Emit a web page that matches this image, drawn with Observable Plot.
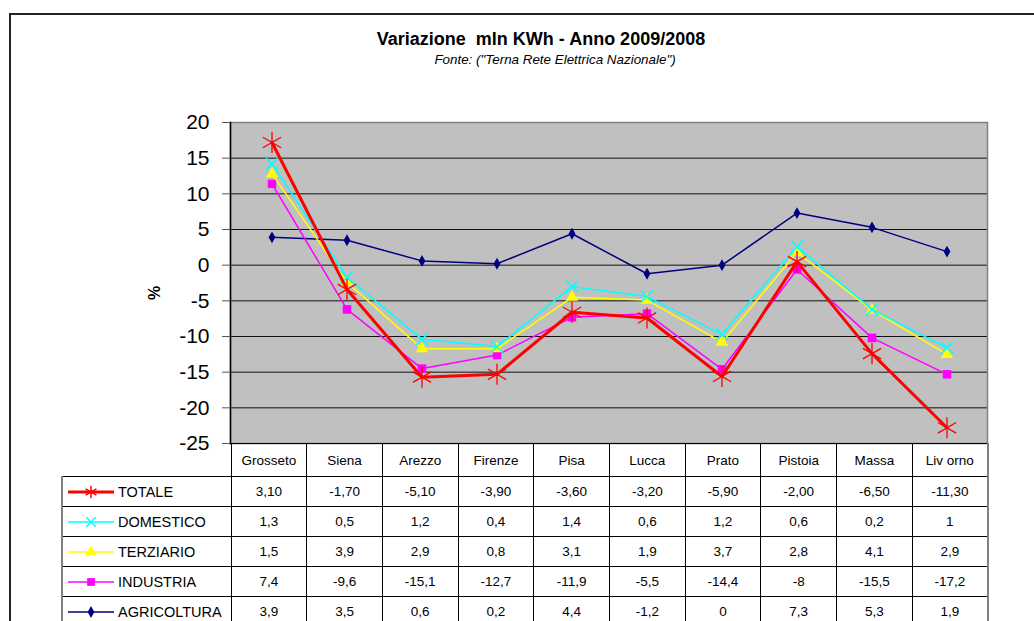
<!DOCTYPE html>
<html>
<head>
<meta charset="utf-8">
<script src="https://cdn.jsdelivr.net/npm/d3@7"></script>
<script src="https://cdn.jsdelivr.net/npm/@observablehq/plot@0.6"></script>
<style>
  body { margin: 0; background: #fff; font-family: "Liberation Sans", Arial, sans-serif; }
  #root { position: relative; width: 1034px; height: 621px; overflow: hidden; background: #fff; }
  #frame { position: absolute; left: 9px; top: 13px; width: 1100px; height: 700px; border: 2px solid #222; box-sizing: border-box; }
  #title { position: absolute; left: 0; width: 1082px; top: 29px; text-align: center; font-weight: bold; font-size: 18px; color: #000; }
  #subtitle { position: absolute; left: 0; width: 1110px; top: 52px; text-align: center; font-style: italic; font-size: 13.4px; color: #000; }
  #ylabel { position: absolute; left: 148px; top: 284px; font-weight: bold; font-size: 16px; transform: rotate(-90deg); transform-origin: center; }
  #chart { position: absolute; left: 0; top: 0; }
  #tbl { position: absolute; left: 61px; top: 443px; border-collapse: collapse; table-layout: fixed; width: 926px; font-size: 13.5px; }
  #tbl td { border: 1px solid #000; text-align: center; padding: 0; color: #000; }
  #tbl tr.head td { height: 32px; }
  #tbl tr.head td.blank { border: none; }
  #tbl tr.data td { height: 29px; }
  #tbl td.leg { text-align: left; border-left: 2px solid #808080; white-space: nowrap; }
  #tbl td.last { border-right: 2px solid #808080; }
  #tbl td.leg svg { vertical-align: middle; margin-left: 4px; }
  #tbl td.leg span { vertical-align: middle; margin-left: 3px; font-size: 14.5px; }
</style>
</head>
<body>
<div id="root">
  <div id="frame"></div>
  <div id="title">Variazione&nbsp; mln KWh - Anno 2009/2008</div>
  <div id="subtitle">Fonte: ("Terna Rete Elettrica Nazionale")</div>
  <div id="chart"></div>
  <div id="ylabel">%</div>
  <table id="tbl"></table>
</div>
<script>
// ---- data ----
const cities = ["Grosseto","Siena","Arezzo","Firenze","Pisa","Lucca","Prato","Pistoia","Massa","Liv orno"];
const seriesNames = ["TOTALE","DOMESTICO","TERZIARIO","INDUSTRIA","AGRICOLTURA"];
const totale      = [17.2, -3.4, -15.7, -15.3, -6.6, -7.4, -15.6, 0.5, -12.4, -22.8];
const domestico   = [14.2, -1.7, -10.4, -11.4, -3.0, -4.4, -9.7, 2.6, -6.2, -11.6];
const terziario   = [12.8, -2.4, -11.7, -11.7, -4.5, -4.9, -10.8, 1.8, -6.3, -12.5];
const industria   = [11.4, -6.2, -14.5, -12.6, -7.3, -6.8, -14.6, -0.6, -10.2, -15.3];
const agricoltura = [3.9, 3.5, 0.6, 0.2, 4.4, -1.2, 0, 7.3, 5.3, 1.9];
const tabTotale      = ["3,10","-1,70","-5,10","-3,90","-3,60","-3,20","-5,90","-2,00","-6,50","-11,30"];
const tabDomestico   = ["1,3","0,5","1,2","0,4","1,4","0,6","1,2","0,6","0,2","1"];
const tabTerziario   = ["1,5","3,9","2,9","0,8","3,1","1,9","3,7","2,8","4,1","2,9"];
const tabIndustria   = ["7,4","-9,6","-15,1","-12,7","-11,9","-5,5","-14,4","-8","-15,5","-17,2"];
const tabAgricoltura = ["3,9","3,5","0,6","0,2","4,4","-1,2","0","7,3","5,3","1,9"];
const yTicks = [-25,-20,-15,-10,-5,0,5,10,15,20];

// ---- styles per series ----
const styles = {
  TOTALE:      {color: "#ff0000", width: 3,   symbol: "asterisk", r: 10,  filled: false, sw: 1.3},
  DOMESTICO:   {color: "#00ffff", width: 1.5, symbol: "times",    r: 5.5, filled: false, sw: 1.5},
  TERZIARIO:   {color: "#ffff00", width: 1.5, symbol: "triangle", r: 4.6, filled: true},
  INDUSTRIA:   {color: "#ff00ff", width: 1.5, symbol: "square",   r: 4.8, filled: true},
  AGRICOLTURA: {color: "#000080", width: 1.5, symbol: "diamond",  r: 3.6, filled: true}
};
const values = {TOTALE: totale, DOMESTICO: domestico, TERZIARIO: terziario, INDUSTRIA: industria, AGRICOLTURA: agricoltura};
const tabs = {TOTALE: tabTotale, DOMESTICO: tabDomestico, TERZIARIO: tabTerziario, INDUSTRIA: tabIndustria, AGRICOLTURA: tabAgricoltura};

const marks = [
  Plot.frame({fill: "#c0c0c0"}),
  Plot.ruleY(yTicks.filter(t => t > -25 && t < 20), {stroke: "#111", strokeWidth: 1})
];
for (const name of seriesNames.slice().reverse()) {
  const s = styles[name];
  const rows = cities.map((c, i) => ({city: c, value: values[name][i]}));
  marks.push(Plot.line(rows, {x: "city", y: "value", stroke: s.color, strokeWidth: s.width}));
  marks.push(Plot.dot(rows, {
    x: "city", y: "value", symbol: () => s.symbol, r: s.r,
    fill: s.filled ? s.color : "none", stroke: s.filled ? "none" : s.color,
    strokeWidth: s.sw || 1
  }));
}
marks.push(Plot.frame({stroke: "#808080", strokeWidth: 1.5}));
marks.push(Plot.frame({anchor: "left", stroke: "#000", strokeWidth: 1.5}));
marks.push(Plot.axisY(yTicks, {tickSize: 8, tickPadding: 13, fontSize: 21, label: null, stroke: "#555", tickFormat: d => String(d)}));

const chart = Plot.plot({
  width: 1034,
  height: 444,
  marginTop: 122,
  marginBottom: 1,
  marginLeft: 230,
  marginRight: 47,
  style: {fontFamily: "'Liberation Sans', Arial, sans-serif", color: "#000", background: "transparent", overflow: "visible"},
  x: {type: "band", domain: cities, padding: 0, axis: null},
  y: {domain: [-25, 20], axis: null},
  symbol: {type: "identity"},
  marks
});
document.getElementById("chart").appendChild(chart);

// ---- data table ----
const tbl = d3.select("#tbl");
const cg = tbl.append("colgroup");
cg.append("col").style("width", "169px");
cities.forEach(() => cg.append("col").style("width", "75.7px"));
const head = tbl.append("tr").attr("class", "head");
head.append("td").attr("class", "blank");
cities.forEach((c, i) => head.append("td").attr("class", i === cities.length - 1 ? "last" : null).text(c));
for (const name of seriesNames) {
  const s = styles[name];
  const tr = tbl.append("tr").attr("class", "data");
  const td = tr.append("td").attr("class", "leg");
  const sv = td.append("svg").attr("width", 48).attr("height", 20);
  sv.append("line").attr("x1", 1).attr("x2", 47).attr("y1", 10).attr("y2", 10)
    .attr("stroke", s.color).attr("stroke-width", s.width);
  const symMap = {asterisk: d3.symbolAsterisk, times: d3.symbolTimes, triangle: d3.symbolTriangle, square: d3.symbolSquare, diamond: d3.symbolDiamond};
  const size = {asterisk: 110, times: 60, triangle: 55, square: 60, diamond: 40}[s.symbol];
  sv.append("path").attr("transform", "translate(24,10)")
    .attr("d", d3.symbol(symMap[s.symbol], size)())
    .attr("fill", s.filled ? s.color : "none")
    .attr("stroke", s.filled ? "none" : s.color).attr("stroke-width", s.filled ? 0 : 1.5);
  td.append("span").text(name);
  tabs[name].forEach((v, i) => tr.append("td").attr("class", i === cities.length - 1 ? "last" : null).text(v));
}
</script>
</body>
</html>
